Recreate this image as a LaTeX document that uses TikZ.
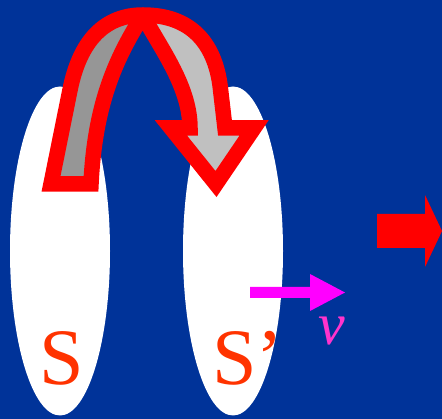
\documentclass[tikz,border=0pt]{standalone}
\usepackage{fontspec}
\setmainfont{Liberation Serif}
\usetikzlibrary{shapes.geometric}
\definecolor{slideblue}{RGB}{0,51,153}
\definecolor{labelred}{RGB}{255,51,0}
\definecolor{velpink}{RGB}{255,51,204}
\definecolor{velarrow}{RGB}{255,0,255}
\definecolor{arrowred}{RGB}{255,0,0}
\definecolor{archdark}{RGB}{150,150,150}
\definecolor{archlight}{RGB}{192,192,192}

\begin{document}
\begin{tikzpicture}[x=1pt,y=-1pt,line join=miter,miter limit=3,
  frame/.style={ellipse,fill=white,minimum width=100pt,minimum height=329pt,inner sep=0pt},
  framelabel/.style={text=labelred,font=\fontsize{80}{80}\selectfont,inner sep=0pt},
  archline/.style={draw=arrowred,line width=15.5pt}]
\useasboundingbox (0,0) rectangle (442,419);
\fill[slideblue] (0,0) rectangle (442,419);
% the two frames
\node[frame] (frameS) at (60,251) {};
\node[frame] (frameSp) at (233,251) {};
\node[framelabel,anchor=base] (labS) at (62,385) {S};
\node[framelabel,anchor=base west] (labSp) at (212,385) {S’};
% jump from S to S': back part, then front part with the head
\coordinate (archtop) at (143,15);
\fill[archdark] (51,184) -- (70,90) .. controls (80,40) and (105,15) .. (archtop)
  .. controls (118,55) and (95,100) .. (91,184) -- cycle;
\fill[archlight] (archtop) .. controls (190,15) and (214,42) .. (220,85) -- (225,128)
  -- (254,128) -- (216,184) -- (171,128) -- (190,128)
  .. controls (190,85) and (158,45) .. (archtop) -- cycle;
\draw[archline] (archtop) .. controls (118,55) and (95,100) .. (91,184)
  -- (51,184) -- (70,90) .. controls (80,40) and (105,15) .. (archtop)
  .. controls (190,15) and (214,42) .. (220,85) -- (225,128)
  -- (254,128) -- (216,184) -- (171,128) -- (190,128)
  .. controls (190,85) and (158,45) .. (archtop);
% velocity of S'
\fill[velarrow] (250,287) -- (310,287) -- (310,274) -- (345,292.5)
  -- (310,311) -- (310,298) -- (250,298) -- cycle;
\node[text=velpink,font=\fontsize{60}{60}\selectfont\itshape,anchor=base west,inner sep=0pt] (labv) at (318,345) {v};
% motion
\fill[arrowred] (377,214) -- (425,214) -- (425,195) -- (442,231)
  -- (425,267) -- (425,248) -- (377,248) -- cycle;
\end{tikzpicture}
\end{document}
